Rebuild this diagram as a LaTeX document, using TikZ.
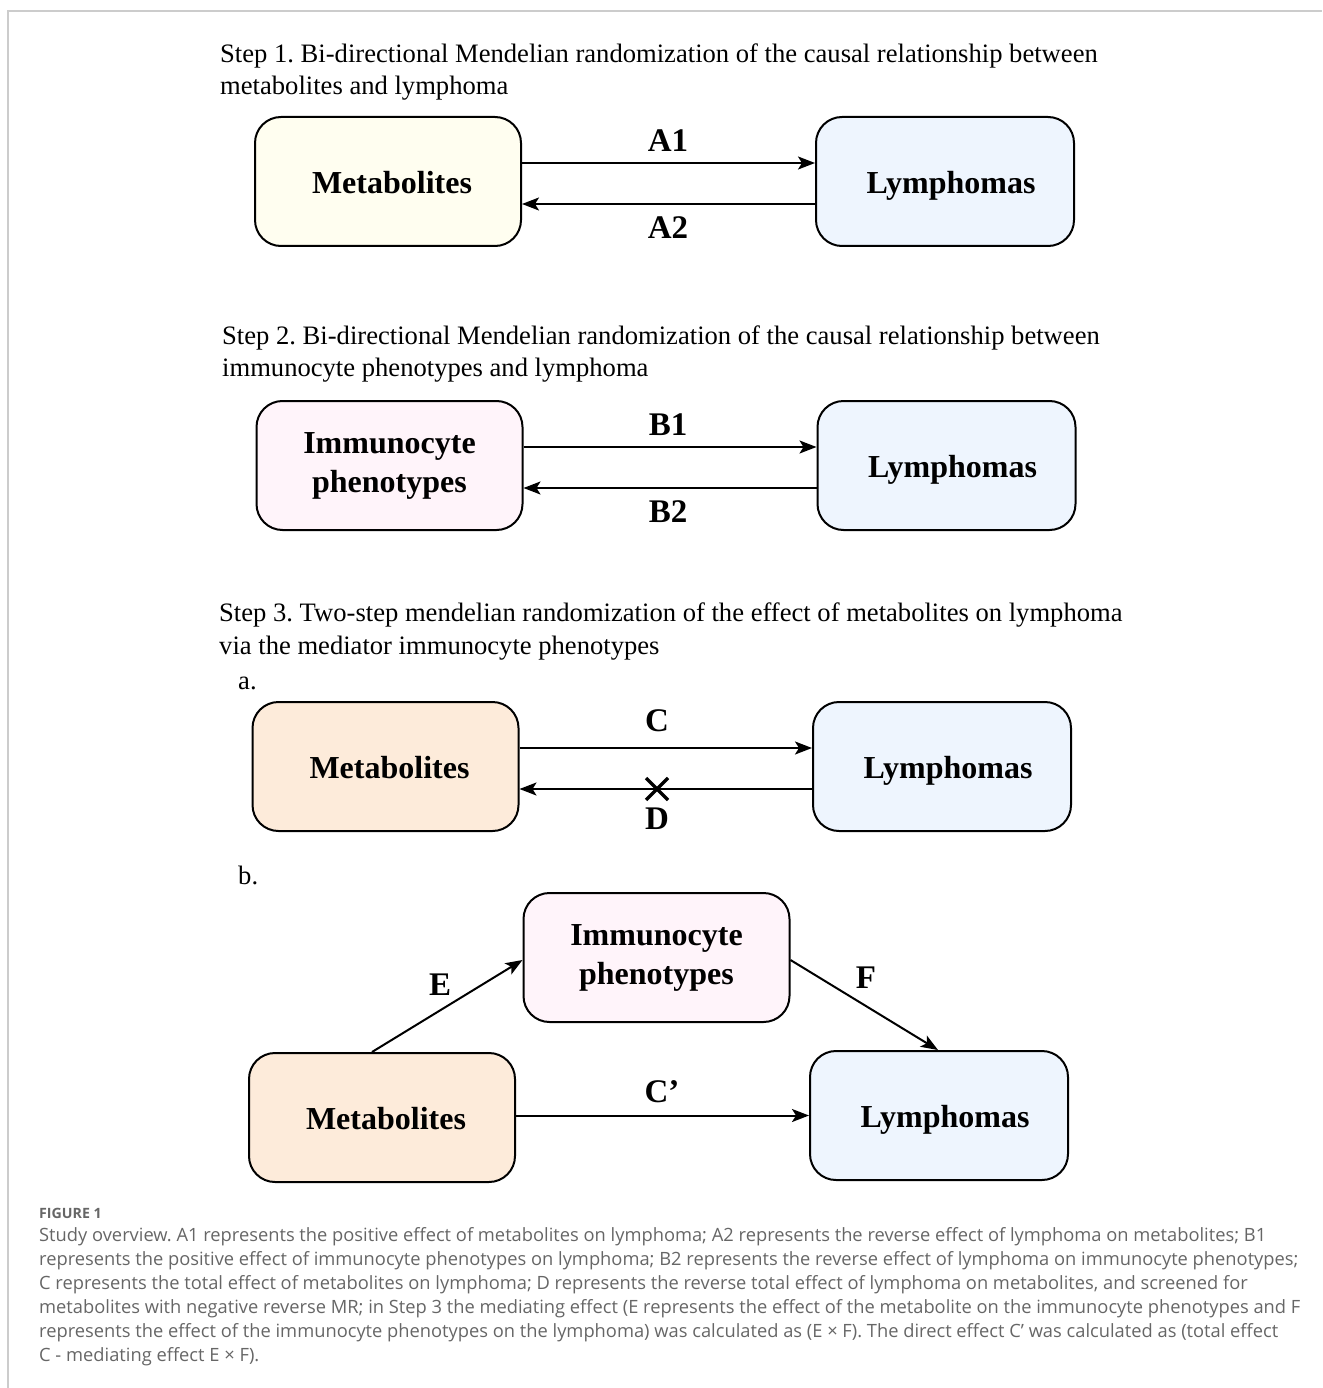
\documentclass[tikz,border=0pt]{standalone}
\usepackage{fontspec}
\setmainfont{Liberation Serif}
\newfontfamily\capfont{Open Sans}
\usetikzlibrary{arrows.meta}
\frenchspacing
\definecolor{frame}{HTML}{CCCCCC}
\definecolor{capgray}{HTML}{666666}
\definecolor{fyellow}{HTML}{FFFEF0}
\definecolor{fblue}{HTML}{EEF5FE}
\definecolor{fpink}{HTML}{FFF4FA}
\definecolor{fpeach}{HTML}{FDEBDA}
\tikzset{
  box/.style={draw=black, line width=2pt, rounded corners=26pt, minimum width=266pt, minimum height=129pt, inner sep=0pt, align=center, font=\fontsize{32}{39}\selectfont\bfseries},
  single/.style={text height=26pt, text depth=2pt},
  lbox/.style={box, single, minimum width=258pt, execute at begin node={\kern12pt}},
  mbox/.style={box, single, execute at begin node={\kern8pt}},
  arr/.style={line width=2pt, -{Stealth[length=17pt,width=13pt,inset=4pt]}},
  lab/.style={font=\fontsize{33}{38}\selectfont\bfseries, inner sep=0pt},
  steptext/.style={anchor=west, align=left, inner sep=0pt, font=\fontsize{26.6}{32.5}\selectfont},
  capline/.style={anchor=west, inner sep=0pt, text=capgray, font=\capfont\fontsize{18.3}{22}\selectfont},
}
\begin{document}
\begin{tikzpicture}[x=1pt,y=-1pt]
\useasboundingbox (0,0) rectangle (1322,1388);
\draw[frame, line width=1.5pt] (8,1388) -- (8,11) -- (1322,11);

% Step 1
\node[steptext] (s1) at (220,72) {Step 1. Bi-directional Mendelian randomization of the causal relationship between\\metabolites and lymphoma};
\node[mbox, fill=fyellow] (m1) at (388,181.5) {Metabolites};
\node[lbox, fill=fblue] (l1) at (945,181.5) {Lymphomas};
\draw[arr] ([yshift=18.5pt]m1.east) -- ([yshift=18.5pt]l1.west);
\draw[arr] ([yshift=-22.5pt]l1.west) -- ([yshift=-22.5pt]m1.east);
\node[lab] (a1) at (668,141) {A1};
\node[lab] (a2) at (668,228) {A2};

% Step 2
\node[steptext] (s2) at (222,354) {Step 2. Bi-directional Mendelian randomization of the causal relationship between\\immunocyte phenotypes and lymphoma};
\node[box, fill=fpink] (i2) at (389.5,465.5) {Immunocyte\\phenotypes};
\node[lbox, fill=fblue] (l2) at (946.5,465.5) {Lymphomas};
\draw[arr] ([yshift=18.5pt]i2.east) -- ([yshift=18.5pt]l2.west);
\draw[arr] ([yshift=-22.5pt]l2.west) -- ([yshift=-22.5pt]i2.east);
\node[lab] (b1) at (668,425) {B1};
\node[lab] (b2) at (668,512) {B2};

% Step 3
\node[steptext] (s3) at (219,631.5) {Step 3. Two-step mendelian randomization of the effect of metabolites on lymphoma\\via the mediator immunocyte phenotypes};
\node[steptext] (sa) at (238,683) {a.};
\node[mbox, fill=fpeach] (m3) at (385.5,766.5) {Metabolites};
\node[lbox, fill=fblue] (l3) at (942,766.5) {Lymphomas};
\draw[arr] ([yshift=18.5pt]m3.east) -- ([yshift=18.5pt]l3.west);
\draw[arr] ([yshift=-22.5pt]l3.west) -- ([yshift=-22.5pt]m3.east);
\node[lab] (c) at (657,721) {C};
\node[lab] (d) at (657,819) {D};
\coordinate (xm) at (657,789);
\draw[line width=3.5pt] ([shift={(-11,-11)}]xm) -- ([shift={(11,11)}]xm);
\draw[line width=3.5pt] ([shift={(-11,11)}]xm) -- ([shift={(11,-11)}]xm);

% b
\node[steptext] (sb) at (238,875) {b.};
\node[box, fill=fpink] (ib) at (656.5,957.5) {Immunocyte\\phenotypes};
\node[mbox, fill=fpeach] (mb) at (382,1117.5) {Metabolites};
\node[lbox, fill=fblue] (lb) at (939,1115.5) {Lymphomas};
\draw[arr] (mb.north -| 372,0) -- (ib.west |- 0,960);
\draw[arr] (ib.east |- 0,960) -- (lb.north -| 938,0);
\draw[arr] (mb.east |- 0,1115.5) -- (lb.west);
\node[lab] (e) at (440,985) {E};
\node[lab] (f) at (866,978) {F};
\node[lab] (cp) at (662,1092) {C’};

% caption
\node[capline, font=\capfont\fontsize{14.2}{17}\selectfont\bfseries, text=capgray] (fig) at (39,1213) {FIGURE 1};
\node[capline] (c1) at (39,1237) {Study overview. A1 represents the positive effect of metabolites on lymphoma; A2 represents the reverse effect of lymphoma on metabolites; B1};
\node[capline] (c2) at (39,1261) {represents the positive effect of immunocyte phenotypes on lymphoma; B2 represents the reverse effect of lymphoma on immunocyte phenotypes;};
\node[capline] (c3) at (39,1285) {C represents the total effect of metabolites on lymphoma; D represents the reverse total effect of lymphoma on metabolites, and screened for};
\node[capline] (c4) at (39,1309) {metabolites with negative reverse MR; in Step 3 the mediating effect (E represents the effect of the metabolite on the immunocyte phenotypes and F};
\node[capline] (c5) at (39,1333) {represents the effect of the immunocyte phenotypes on the lymphoma) was calculated as (E × F). The direct effect C’ was calculated as (total effect};
\node[capline] (c6) at (39,1357) {C - mediating effect E × F).};
\end{tikzpicture}
\end{document}
